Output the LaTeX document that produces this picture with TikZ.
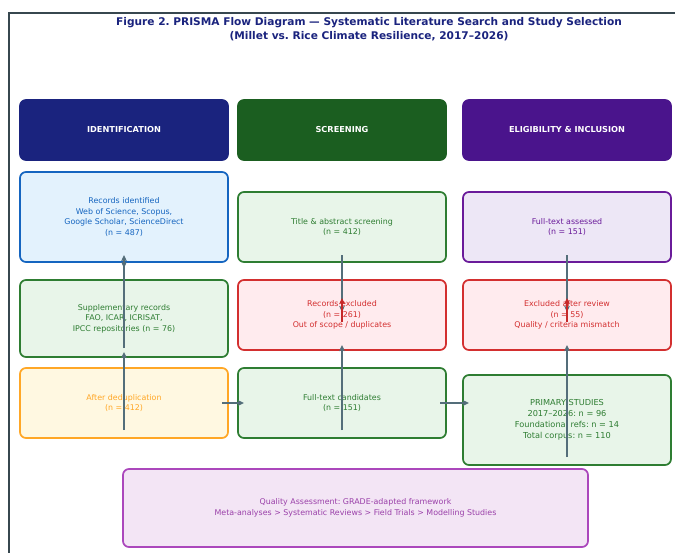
\documentclass[tikz,border=0pt]{standalone}
\usepackage{fontspec}
\setmainfont{DejaVu Sans}
\frenchspacing
\usetikzlibrary{arrows.meta}
\definecolor{framec}{HTML}{37474F}
\definecolor{navy}{HTML}{1A237E}
\definecolor{hgreen}{HTML}{1B5E20}
\definecolor{hpurple}{HTML}{4A148C}
\definecolor{bluefill}{HTML}{E3F2FD}
\definecolor{blueline}{HTML}{1565C0}
\definecolor{greenfill}{HTML}{E8F5E9}
\definecolor{greenline}{HTML}{2E7D32}
\definecolor{redfill}{HTML}{FFEBEE}
\definecolor{redline}{HTML}{D32F2F}
\definecolor{purfill}{HTML}{EDE7F6}
\definecolor{purline}{HTML}{6A1B9A}
\definecolor{orfill}{HTML}{FFF8E1}
\definecolor{orline}{HTML}{FFA726}
\definecolor{qfill}{HTML}{F3E5F5}
\definecolor{qline}{HTML}{AB47BC}
\definecolor{arrc}{HTML}{546E7A}
\definecolor{redarr}{HTML}{C62828}
\tikzset{
  basebox/.style={rectangle, rounded corners=6pt, line width=1.7pt, minimum width=208pt, align=center, inner sep=2pt, font=\fontsize{7.9}{10.5}\selectfont},
  hdr/.style={basebox, draw=#1, fill=#1, text=white, minimum height=60pt, font=\fontsize{8.2}{10}\selectfont\bfseries},
  bluebox/.style={basebox, draw=blueline, fill=bluefill, text=blueline},
  greenbox/.style={basebox, draw=greenline, fill=greenfill, text=greenline},
  redbox/.style={basebox, draw=redline, fill=redfill, text=redline},
  purbox/.style={basebox, draw=purline, fill=purfill, text=purline},
  orbox/.style={basebox, draw=orline, fill=orfill, text=orline},
  qbox/.style={basebox, draw=qline, fill=qfill, text=qline!90!black},
  arr/.style={draw=arrc, line width=1.6pt, -{Stealth[length=6pt,width=5.5pt,inset=1pt]}},
  rarr/.style={draw=redarr, line width=1.6pt, -{Stealth[length=6pt,width=5.5pt,inset=1pt]}}
}
\begin{document}
\begin{tikzpicture}[x=1pt,y=-1pt]
\useasboundingbox (0,0) rectangle (675,552);
\clip (0,0) rectangle (675,552);
\fill[white] (0,0) rectangle (675,552);
\draw[framec, line width=1.5pt] (9,600) -- (9,13) -- (700,13);
\node[font=\fontsize{10.6}{14}\selectfont\bfseries, text=navy, align=center] (title) at (369,29)
  {Figure 2. PRISMA Flow Diagram — Systematic Literature Search and Study Selection\\(Millet vs. Rice Climate Resilience, 2017–2026)};
\node[hdr=navy] (hid) at (124,130) {IDENTIFICATION};
\node[hdr=hgreen] (hscr) at (342,130) {SCREENING};
\node[hdr=hpurple] (hel) at (567,130) {ELIGIBILITY \& INCLUSION};
\node[bluebox, minimum height=90pt] (rec) at (124,217) {Records identified\\Web of Science, Scopus,\\Google Scholar, ScienceDirect\\(n = 487)};
\node[greenbox, minimum height=70pt] (tas) at (342,227) {Title \& abstract screening\\(n = 412)};
\node[purbox, minimum height=70pt] (fta) at (567,227) {Full-text assessed\\(n = 151)};
\node[greenbox, minimum height=77pt] (sup) at (124,318.5) {Supplementary records\\FAO, ICAR, ICRISAT,\\IPCC repositories (n = 76)};
\node[redbox, minimum height=70pt] (rex) at (342,315) {Records excluded\\(n = 261)\\Out of scope / duplicates};
\node[redbox, minimum height=70pt] (exr) at (567,315) {Excluded after review\\(n = 55)\\Quality / criteria mismatch};
\node[orbox, minimum height=70pt] (ded) at (124,403) {After deduplication\\(n = 412)};
\node[greenbox, minimum height=70pt] (ftc) at (342,403) {Full-text candidates\\(n = 151)};
\node[greenbox, minimum height=90pt, font=\fontsize{8.2}{11}\selectfont] (pri) at (567,420) {PRIMARY STUDIES\\2017–2026: n = 96\\Foundational refs: n = 14\\Total corpus: n = 110};
\node[qbox, minimum width=465pt, minimum height=78pt] (qa) at (355.5,508) {Quality Assessment: GRADE-adapted framework\\Meta-analyses > Systematic Reviews > Field Trials > Modelling Studies};
% connector end points
\coordinate (c1a) at (124,430); \coordinate (c1b) at (124,352);
\coordinate (c2a) at (124,348); \coordinate (c2b) at (124,255);
\coordinate (c3a) at (124,259); \coordinate (c3b) at (124,268);
\coordinate (d1a) at (342,255); \coordinate (d1b) at (342,312);
\coordinate (d2a) at (342,322); \coordinate (d2b) at (342,298);
\coordinate (d3a) at (342,430); \coordinate (d3b) at (342,345);
\coordinate (e1a) at (567,255); \coordinate (e1b) at (567,312);
\coordinate (e2a) at (567,322); \coordinate (e2b) at (567,298);
\coordinate (e3a) at (567,457); \coordinate (e3b) at (567,345);
\coordinate (h1a) at (222,403); \coordinate (h1b) at (244,403);
\coordinate (h2a) at (440,403); \coordinate (h2b) at (469,403);
\draw[arr] (c1a) -- (c1b);
\draw[arr] (c2a) -- (c2b);
\draw[arr] (c3a) -- (c3b);
\draw[arr] (d1a) -- (d1b);
\draw[rarr] (d2a) -- (d2b);
\draw[arr] (d3a) -- (d3b);
\draw[arr] (e1a) -- (e1b);
\draw[rarr] (e2a) -- (e2b);
\draw[arr] (e3a) -- (e3b);
\draw[arr] (h1a) -- (h1b);
\draw[arr] (h2a) -- (h2b);
\end{tikzpicture}
\end{document}
